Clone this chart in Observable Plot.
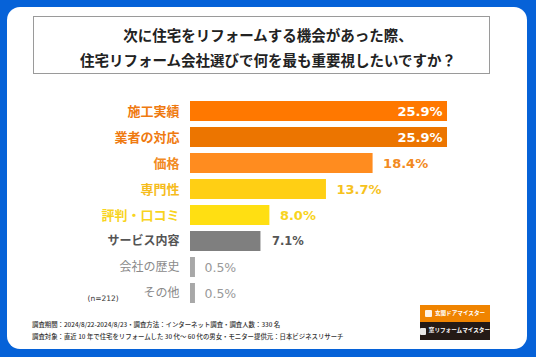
<!DOCTYPE html>
<html><head><meta charset="utf-8">
<script src="https://cdn.jsdelivr.net/npm/d3@7"></script>
<script src="https://cdn.jsdelivr.net/npm/@observablehq/plot@0.6"></script>
<style>
html,body{margin:0;padding:0;}
body{width:536px;height:357px;background:#0662d8;position:relative;overflow:hidden;font-family:"DejaVu Sans","Noto Sans CJK JP",sans-serif;}
#panel{position:absolute;left:7px;top:7px;width:520px;height:342px;background:#fff;border-radius:13px;}
#titlebox{position:absolute;left:33px;top:16px;width:455px;height:56px;border:1px solid #9a9a9a;box-sizing:content-box;}
.tl{position:absolute;left:0;width:100%;text-align:center;font-family:"Noto Sans CJK JP",sans-serif;font-weight:bold;font-size:14.5px;color:#222;line-height:1;}
#chart{position:absolute;left:0;top:0;}
.foot{position:absolute;left:32px;font-family:"Noto Sans CJK JP",sans-serif;font-size:6.4px;color:#333;white-space:nowrap;line-height:1;font-weight:500;}
.logo{position:absolute;left:420px;width:70px;font-family:"Noto Sans CJK JP",sans-serif;font-size:5.6px;font-weight:bold;color:#fff;white-space:nowrap;line-height:1;display:flex;align-items:center;justify-content:center;}
.ico{display:inline-block;width:7px;height:7px;background:#fff;border-radius:1px;margin-right:3px;opacity:.9;}
</style></head>
<body>
<div id="panel"></div>
<div id="titlebox"></div>
<div class="tl" style="top:28px;">次に住宅をリフォームする機会があった際、</div>
<div class="tl" style="top:53px;">住宅リフォーム会社選びで何を最も重要視したいですか？</div>
<div id="chart"></div>
<div class="foot" style="top:322px;">調査期間：2024/8/22-2024/8/23・調査方法：インターネット調査・調査人数：330 名</div>
<div class="foot" style="top:334px;">調査対象：直近 10 年で住宅をリフォームした 30 代～ 60 代の男女・モニター提供元：日本ビジネスリサーチ</div>
<div class="logo" style="top:305px;height:17px;background:#f08400;"><span class="ico"></span>玄関ドアマイスター</div>
<div class="logo" style="top:322px;height:18px;background:#241a16;"><span class="ico"></span>窓リフォームマイスター</div>
<script>
const categories = ["施工実績","業者の対応","価格","専門性","評判・口コミ","サービス内容","会社の歴史","その他"];
const values = [25.9, 25.9, 18.4, 13.7, 8.0, 7.1, 0.5, 0.5];
const barColors = ["#ff7800","#ec7500","#ff8c1f","#ffcf14","#ffdf12","#7f7f7f","#a8a8a8","#a8a8a8"];
const labelColors = ["#ef7a10","#ef7a10","#f28a22","#f6bc1c","#f8d41e","#555555","#8a8a8a","#8a8a8a"];
const valueColors = ["#ffffff","#ffffff","#f28a22","#f6c21e","#f8d41e","#555555","#999999","#999999"];
const nNote = "(n=212)";

const data = categories.map((c,i)=>({cat:c, v:values[i], bar:barColors[i], lab:labelColors[i], vc:valueColors[i], txt:values[i].toFixed(1)+"%", i}));
const ff = '"DejaVu Sans","Noto Sans CJK JP",sans-serif';
const jf = '"Noto Sans CJK JP",sans-serif';

const chart = Plot.plot({
  width:536, height:357,
  marginLeft:190, marginRight:88, marginTop:94, marginBottom:48,
  style:{background:"transparent", fontFamily:ff},
  x:{domain:[0,26], axis:null},
  y:{domain:categories, axis:null, padding:0.235},
  marks:[
    Plot.barX(data,{x:"v", y:"cat", fill:"bar"}),
    Plot.text(data.filter(d=>d.i<5),{x:0, y:"cat", text:"cat", fill:"lab", textAnchor:"end", dx:-11, fontSize:13, fontWeight:"bold", fontFamily:jf}),
    Plot.text(data.filter(d=>d.i===5),{x:0, y:"cat", text:"cat", fill:"lab", textAnchor:"end", dx:-11, fontSize:12, fontWeight:"bold", fontFamily:jf}),
    Plot.text(data.filter(d=>d.i>5),{x:0, y:"cat", text:"cat", fill:"lab", textAnchor:"end", dx:-11, fontSize:12, fontWeight:"normal", fontFamily:jf}),
    Plot.text(data.filter(d=>d.i<2),{x:"v", y:"cat", text:"txt", fill:"vc", textAnchor:"end", dx:-5, fontSize:13, fontWeight:"bold"}),
    Plot.text(data.filter(d=>d.i>=2 && d.i<5),{x:"v", y:"cat", text:"txt", fill:"vc", textAnchor:"start", dx:10, fontSize:13, fontWeight:"bold"}),
    Plot.text(data.filter(d=>d.i===5),{x:"v", y:"cat", text:"txt", fill:"vc", textAnchor:"start", dx:11, fontSize:11.5, fontWeight:"bold"}),
    Plot.text(data.filter(d=>d.i>5),{x:"v", y:"cat", text:"txt", fill:"vc", textAnchor:"start", dx:9, fontSize:12.5, fontWeight:"normal"}),
    Plot.text([nNote],{x:0, y:[categories[7]], text:d=>d, frameAnchor:"left", dx:-103, dy:5, fontSize:7.5, fill:"#333", textAnchor:"start"})
  ]
});
document.getElementById("chart").appendChild(chart);
</script>
</body></html>
